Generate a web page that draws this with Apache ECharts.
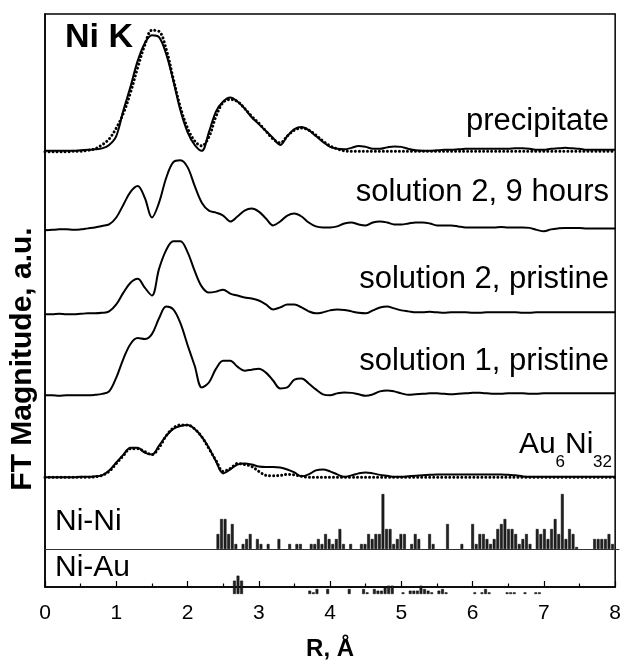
<!DOCTYPE html>
<html>
<head>
<meta charset="utf-8">
<script src="https://cdn.jsdelivr.net/npm/echarts@6/dist/echarts.min.js"></script>
<style>
  html, body { margin: 0; padding: 0; background: #fff; }
  #chart { width: 624px; height: 666px; }
</style>
</head>
<body>
<div id="chart"></div>
<script>
// R grid of the FT spectra (Angstrom)
var rGrid = [
  0.0, 0.1, 0.2, 0.3, 0.4, 0.5, 0.6, 0.7, 0.8, 0.9,
  1.0, 1.1, 1.2, 1.3, 1.4, 1.5, 1.6, 1.7, 1.8, 1.9,
  2.0, 2.1, 2.2, 2.3, 2.4, 2.5, 2.6, 2.7, 2.8, 2.9,
  3.0, 3.1, 3.2, 3.3, 3.4, 3.5, 3.6, 3.7, 3.8, 3.9,
  4.0, 4.1, 4.2, 4.3, 4.4, 4.5, 4.6, 4.7, 4.8, 4.9,
  5.0, 5.1, 5.2, 5.3, 5.4, 5.5, 5.6, 5.7, 5.8, 5.9,
  6.0, 6.1, 6.2, 6.3, 6.4, 6.5, 6.6, 6.7, 6.8, 6.9,
  7.0, 7.1, 7.2, 7.3, 7.4, 7.5, 7.6, 7.7, 7.8, 7.9,
  8.0
];

// |FT| magnitudes, a.u.
var precipitate = [
  0.1, 0.1, 0.1, 0.1, 0.1, 0.15, 0.2, 0.25, 0.35, 0.7,
  1.6, 4.2, 6.6, 9.2, 11.0, 11.8, 11.6, 9.9, 7.2, 4.2,
  2.0, 0.7, 0.1, 2.0, 4.1, 5.1, 5.5, 5.1, 4.4, 3.5,
  2.8, 2.1, 1.4, 0.7, 1.6, 2.3, 2.5, 2.2, 1.6, 1.0,
  0.5, 0.3, 0.25, 0.4, 0.6, 0.5, 0.3, 0.3, 0.45, 0.55,
  0.5, 0.3, 0.15, 0.1, 0.1, 0.15, 0.2, 0.2, 0.25, 0.3,
  0.3, 0.3, 0.3, 0.3, 0.3, 0.3, 0.35, 0.35, 0.3, 0.2,
  0.2, 0.3, 0.35, 0.4, 0.35, 0.3, 0.2, 0.2, 0.2, 0.2,
  0.2
];
var precipitateFit = [
  0.0, 0.0, 0.0, 0.0, 0.05, 0.05, 0.15, 0.3, 0.7, 1.3,
  2.4, 3.9, 6.0, 8.5, 10.8, 12.3, 12.2, 10.4, 7.4, 4.5,
  2.4, 1.1, 0.6, 1.5, 3.6, 5.0, 5.3, 5.1, 4.4, 3.6,
  2.9, 2.1, 1.3, 0.9, 1.6, 2.2, 2.4, 2.2, 1.7, 1.1,
  0.6, 0.3, 0.1, 0.05, 0.05, 0.05, 0.05, 0.05, 0.05, 0.05,
  0.05, 0.05, 0.05, 0.05, 0.05, 0.05, 0.05, 0.05, 0.05, 0.05,
  0.05, 0.05, 0.05, 0.05, 0.05, 0.05, 0.05, 0.05, 0.05, 0.05,
  0.05, 0.05, 0.05, 0.05, 0.05, 0.05, 0.05, 0.05, 0.05, 0.05,
  0.05
];
var sol2Hours9 = [
  0.0, 0.05, 0.1, 0.1, 0.05, 0.1, 0.2, 0.3, 0.45, 0.6,
  1.3, 2.6, 3.9, 4.5, 3.3, 1.3, 2.8, 5.3, 6.9, 7.1,
  6.4, 4.5, 2.8, 2.0, 1.8, 1.5, 0.9, 1.4, 2.0, 2.2,
  1.9, 1.2, 0.5, 0.9, 1.5, 1.7, 1.4, 0.8, 0.4, 0.3,
  0.3, 0.4, 0.7, 0.8, 0.6, 0.5, 0.8, 0.9, 0.8, 0.6,
  0.6, 0.7, 0.8, 0.8, 0.7, 0.5, 0.5, 0.5, 0.4, 0.3,
  0.3, 0.3, 0.3, 0.3, 0.35, 0.3, 0.3, 0.3, 0.25, 0.05,
  -0.1, 0.1, 0.2, 0.25, 0.25, 0.25, 0.2, 0.2, 0.2, 0.2,
  0.2
];
var sol2Pristine = [
  0.0, 0.0, 0.05, 0.0, 0.0, 0.05, 0.1, 0.1, 0.15, 0.3,
  1.0, 2.2, 3.2, 3.6, 2.7, 1.9, 4.6, 6.5, 7.4, 7.4,
  6.3, 4.4, 2.8, 2.2, 2.3, 2.5, 2.1, 1.9, 1.7, 1.6,
  1.4, 1.0, 0.5, 0.7, 1.0, 1.0, 0.7, 0.3, 0.1, 0.2,
  0.4, 0.5, 0.45, 0.3, 0.15, 0.1, 0.4, 0.7, 0.8, 0.6,
  0.4, 0.3, 0.2, 0.2, 0.25, 0.2, 0.15, 0.2, 0.2, 0.2,
  0.15, 0.15, 0.2, 0.2, 0.2, 0.2, 0.2, 0.15, 0.15, 0.2,
  0.2, 0.2, 0.2, 0.2, 0.2, 0.2, 0.2, 0.2, 0.2, 0.2,
  0.2
];
var sol1Pristine = [
  0.1, 0.1, 0.05, 0.1, 0.1, 0.1, 0.1, 0.15, 0.25, 0.5,
  1.9, 3.8, 5.3, 5.9, 5.8, 6.3, 7.9, 9.1, 8.8, 7.4,
  5.2, 3.1, 0.9, 1.4, 2.8, 3.6, 3.6, 3.0, 2.6, 2.7,
  2.8, 2.4, 1.6, 0.8, 0.9, 1.7, 1.8, 1.3, 0.7, 0.2,
  0.1, 0.3, 0.4, 0.35, 0.2, 0.05, 0.2, 0.5, 0.6, 0.5,
  0.3, 0.15, 0.2, 0.25, 0.3, 0.3, 0.25, 0.2, 0.25, 0.3,
  0.35, 0.35, 0.3, 0.25, 0.25, 0.3, 0.3, 0.3, 0.25, 0.25,
  0.3, 0.3, 0.3, 0.3, 0.3, 0.3, 0.3, 0.3, 0.3, 0.3,
  0.3
];
var au6ni32 = [
  0.0, 0.0, 0.0, 0.0, 0.0, 0.05, 0.05, 0.1, 0.2, 0.7,
  1.5, 2.3, 3.0, 3.0, 2.5, 2.3, 3.2, 4.2, 4.9, 5.2,
  5.3, 4.9, 4.1, 3.0, 1.6, 0.4, 0.8, 1.3, 1.4, 1.3,
  1.1, 1.05, 1.05, 1.0, 0.8, 0.5, 0.1, 0.3, 0.7, 0.8,
  0.6, 0.3, 0.05, 0.2, 0.4, 0.5, 0.4, 0.25, 0.15, 0.05,
  0.05, 0.1, 0.15, 0.2, 0.25, 0.3, 0.3, 0.3, 0.3, 0.3,
  0.3, 0.3, 0.3, 0.3, 0.3, 0.25, 0.2, 0.1, 0.05, 0.05,
  0.05, 0.05, 0.05, 0.05, 0.05, 0.05, 0.05, 0.05, 0.05, 0.05,
  0.05
];
var au6ni32Fit = [
  0.0, 0.0, 0.0, 0.0, 0.0, 0.0, 0.0, 0.05, 0.2, 0.6,
  1.4, 2.2, 2.9, 2.9, 2.6, 2.3, 3.0, 4.2, 5.0, 5.3,
  5.3, 4.9, 4.1, 2.9, 1.7, 0.6, 0.9, 1.4, 1.3, 1.1,
  0.6, 0.2, 0.15, 0.2, 0.3, 0.25, 0.1, 0.0, 0.0, 0.0,
  0.0, 0.0, 0.0, 0.0, 0.0, 0.0, 0.0, 0.0, 0.0, 0.0,
  0.0, 0.0, 0.0, 0.0, 0.0, 0.0, 0.0, 0.0, 0.0, 0.0,
  0.0, 0.0, 0.0, 0.0, 0.0, 0.0, 0.0, 0.0, 0.0, 0.0,
  0.0, 0.0, 0.0, 0.0, 0.0, 0.0, 0.0, 0.0, 0.0, 0.0,
  0.0
];

// pair distances in the Au6Ni32 model
var niNiR = [
  2.41, 2.46, 2.51, 2.56, 2.61, 2.66, 2.76, 2.81, 2.86, 2.96, 3.01, 3.11, 3.26, 3.41, 3.51, 3.56,
  3.71, 3.76, 3.81, 3.86, 3.91, 3.96, 4.01, 4.06, 4.11, 4.16, 4.26, 4.41, 4.46, 4.51, 4.56, 4.61,
  4.66, 4.71, 4.76, 4.81, 4.86, 4.91, 4.96, 5.01, 5.11, 5.16, 5.21, 5.36, 5.41, 5.61, 5.81, 5.96,
  6.01, 6.06, 6.11, 6.16, 6.21, 6.26, 6.31, 6.36, 6.41, 6.46, 6.51, 6.56, 6.61, 6.66, 6.71, 6.76,
  6.86, 6.91, 6.96, 7.01, 7.06, 7.11, 7.16, 7.21, 7.26, 7.31, 7.36, 7.41, 7.66, 7.71, 7.76, 7.81,
  7.86, 7.91
];
var niNiN = [
  3, 6, 6, 3, 5, 1, 1, 2, 3, 2, 1, 1, 2, 1, 1, 1,
  1, 1, 2, 1, 3, 2, 1, 2, 4, 1, 1, 1, 1, 3, 2, 3,
  3, 11, 4, 4, 1, 2, 3, 3, 1, 3, 2, 3, 1, 5, 1, 5,
  1, 3, 3, 2, 1, 2, 4, 5, 6, 4, 4, 3, 1, 2, 3, 1,
  4, 3, 4, 2, 4, 6, 3, 11, 2, 4, 3, 0.4, 2, 2, 2, 2,
  3, 1
];
var niAuR = [
  2.64, 2.69, 2.74, 3.69, 3.74, 3.79, 3.94, 4.24, 4.44, 4.49, 4.59, 4.64, 4.69,
  4.74, 4.79, 4.84, 4.99, 5.09, 5.14, 5.19, 5.24, 5.29, 5.34, 5.39, 5.49, 5.54,
  5.59, 5.99, 6.09, 6.14, 6.19, 6.44, 6.49, 6.54, 6.69, 6.84, 6.89
];
var niAuN = [
  8, 11, 8, 2, 1, 3, 3, 3, 3, 1, 3, 2, 2,
  4, 5, 5, 1, 2, 2, 2, 5, 3, 2, 1, 2, 3,
  1, 1, 1, 3, 1, 1, 1, 1, 1, 1, 1
];

var FONT = '"Liberation Sans", Arial, sans-serif';

// vertical offsets of the stacked spectra
var baseLevels = [44.05, 36.1, 27.6, 19.3, 11.1];

function shifted(vals, off) {
  return rGrid.map(function (r, i) { return [r, vals[i] + off]; });
}
function pairs(xs, ys) {
  return xs.map(function (x, i) { return [x, ys[i]]; });
}

function solid(vals, off) {
  return {
    type: 'line', xAxisIndex: 0, yAxisIndex: 0,
    data: shifted(vals, off), smooth: 0.35, showSymbol: false,
    lineStyle: { color: '#000', width: 2 }
  };
}
function dotted(vals, off) {
  return {
    type: 'line', xAxisIndex: 0, yAxisIndex: 0,
    data: shifted(vals, off), smooth: 0.35, showSymbol: false,
    lineStyle: { color: '#000', width: 3, type: [0.01, 4], cap: 'round' }
  };
}
function bars(xi, xs, ys) {
  return {
    type: 'bar', xAxisIndex: xi, yAxisIndex: xi,
    data: pairs(xs, ys), barWidth: 2.8,
    itemStyle: { color: '#222', borderColor: '#000', borderWidth: 0.5 }
  };
}
function label(txt, x, y, size, align, weight) {
  return {
    type: 'text', x: x, y: y,
    style: {
      text: txt, font: (weight || 'normal') + ' ' + size + 'px ' + FONT,
      fill: '#000', align: align, verticalAlign: 'middle'
    }
  };
}

var chart = echarts.init(document.getElementById('chart'));

var option = {
  animation: false,
  grid: [
    { left: 45, right: 5, top: 14, bottom: 72, show: true, borderColor: '#000', borderWidth: 1.5 },
    { left: 45, right: 5, top: 484, bottom: 117 },
    { left: 45, right: 5, top: 554, bottom: 72 }
  ],
  xAxis: [
    {
      gridIndex: 0, type: 'value', min: 0, max: 8, interval: 1,
      name: 'R, Å', nameLocation: 'middle', nameGap: 50,
      nameTextStyle: { fontFamily: FONT, fontSize: 24, fontWeight: 'bold', color: '#000' },
      axisLine: { lineStyle: { color: '#000', width: 1.5 } },
      axisTick: { inside: true, length: 6, lineStyle: { color: '#000', width: 1.2 } },
      minorTick: { show: true, splitNumber: 2, length: 3.5, lineStyle: { color: '#000', width: 1.2 } },
      axisLabel: { fontFamily: FONT, fontSize: 21, color: '#000', margin: 16 },
      splitLine: { show: false }
    },
    {
      gridIndex: 1, type: 'value', min: 0, max: 8,
      axisLine: { lineStyle: { color: '#333', width: 1 } },
      axisTick: { show: false }, axisLabel: { show: false }, splitLine: { show: false }
    },
    { gridIndex: 2, type: 'value', min: 0, max: 8, show: false }
  ],
  yAxis: [
    {
      gridIndex: 0, type: 'value', min: 0, max: 58,
      axisLine: { show: true, lineStyle: { color: '#000', width: 1.5 } },
      axisTick: { show: false }, axisLabel: { show: false }, splitLine: { show: false }
    },
    { gridIndex: 1, type: 'value', min: 0, max: 13, show: false },
    { gridIndex: 2, type: 'value', min: 0, max: 24, show: false }
  ],
  series: [
    solid(precipitate, baseLevels[0]),
    dotted(precipitateFit, baseLevels[0]),
    solid(sol2Hours9, baseLevels[1]),
    solid(sol2Pristine, baseLevels[2]),
    solid(sol1Pristine, baseLevels[3]),
    solid(au6ni32, baseLevels[4]),
    dotted(au6ni32Fit, baseLevels[4]),
    bars(1, niNiR, niNiN),
    bars(2, niAuR, niAuN)
  ],
  graphic: [
    {
      type: 'text', x: 23, y: 359, rotation: Math.PI / 2,
      style: { text: 'FT Magnitude, a.u.', font: 'bold 30px ' + FONT, fill: '#000', align: 'center', verticalAlign: 'middle' }
    },
    label('Ni K', 65, 38, 34, 'left', 'bold'),
    label('precipitate', 609, 121.5, 31, 'right'),
    label('solution 2, 9 hours', 609, 192.5, 31, 'right'),
    label('solution 2, pristine', 609, 279.5, 31, 'right'),
    label('solution 1, pristine', 609, 361.5, 31, 'right'),
    // Au6Ni32 with subscripts
    label('Au', 519, 444.5, 30, 'left'),
    label('6', 555.5, 462, 17, 'left'),
    label('Ni', 565, 444.5, 30, 'left'),
    label('32', 593, 462, 17, 'left'),
    label('Ni-Ni', 55, 521.5, 30, 'left'),
    label('Ni-Au', 55, 567.5, 30, 'left')
  ]
};

chart.setOption(option);
</script>
</body>
</html>
